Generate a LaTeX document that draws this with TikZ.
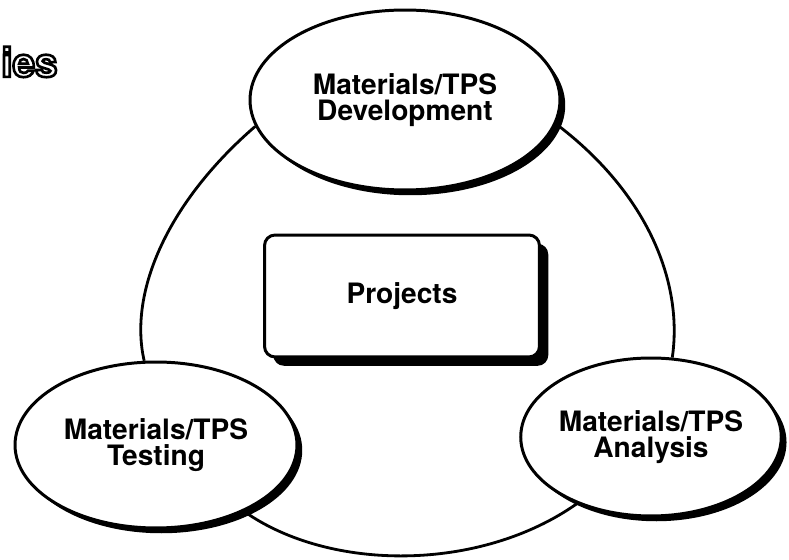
\documentclass[tikz,border=0pt]{standalone}
\usepackage{fontspec}
\setmainfont{TeX Gyre Heros}
\usepackage{tikz}
\usetikzlibrary{shapes.geometric, shadows}
\tikzstyle{topic} = [ellipse, draw=black, line width=1.7pt, fill=white, inner sep=0pt, align=center, font=\fontsize{16}{14.5}\selectfont\bfseries, drop shadow={shadow xshift=3pt, shadow yshift=-3pt, fill=black, opacity=1}]
\tikzstyle{hub} = [rectangle, rounded corners=6pt, draw=black, line width=1.7pt, fill=white, minimum width=5.5cm, minimum height=2.44cm, font=\fontsize{16}{14.5}\selectfont\bfseries, drop shadow={shadow xshift=5pt, shadow yshift=-5pt, fill=black, opacity=1}]
\tikzstyle{ring} = [line width=1.6pt]
% outlined lettering: black stroke, white fill
\newcommand{\hollowtext}[1]{%
  \special{pdf:literal direct 2 Tr 1.5 w 1 g 0 G}#1%
  \special{pdf:literal direct 0 Tr 0 g 0 G}}

\begin{document}
\begin{tikzpicture}[x=0.02cm, y=-0.02cm]
\useasboundingbox (0,0) rectangle (789,560);
% heading fragment
\node (heading) [anchor=west, inner sep=0pt, font=\fontsize{23}{23}\selectfont\bfseries] at (1,62) {\hollowtext{ies}};
% centre box
\node (projects) [hub] at (402,296) {Projects};
% the three fields
\node (develop) [topic, minimum width=6.2cm, minimum height=3.6cm] at (405,100) {Materials/TPS\\Development};
\node (testing) [topic, minimum width=5.64cm, minimum height=3.32cm] at (156,445) {Materials/TPS\\Testing};
\node (analysis) [topic, minimum width=5.16cm, minimum height=3.16cm] at (651,437) {Materials/TPS\\Analysis};

% ring joining them
\draw [ring] (develop.190) .. controls (170,200) and (128,290) .. (testing.98);
\draw [ring] (develop.-9) .. controls (650,195) and (683,285) .. (analysis.75);
\draw [ring] (testing.-37) .. controls (330,572) and (480,572) .. (analysis.222);
\end{tikzpicture}
\end{document}
